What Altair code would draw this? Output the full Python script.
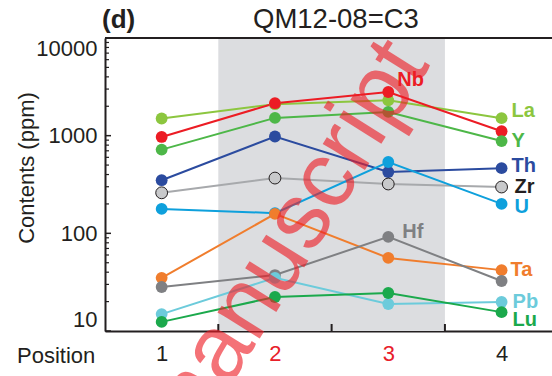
import altair as alt
import pandas as pd

# ---- data ----
positions = [1, 2, 3, 4]
series = ["La", "Nb", "Y", "Th", "Zr", "U", "Ta", "Hf", "Pb", "Lu"]
La = [1500, 2100, 2300, 1510]
Nb = [970, 2150, 2800, 1110]
Yv = [720, 1520, 1750, 880]
Th = [350, 980, 425, 465]
Zr = [260, 368, 320, 298]
U = [178, 161, 537, 200]
Ta = [35, 158, 56, 42]
Hf = [28.2, 37.4, 92, 32.5]
Pb = [14.9, 35, 18.9, 19.8]
Lu = [12.4, 22.3, 24.5, 15.6]
values = [La, Nb, Yv, Th, Zr, U, Ta, Hf, Pb, Lu]

line_colors = ["#8cc63f", "#ec1c24", "#4db748", "#2b4b9f", "#a7a9ac",
               "#0ea0dc", "#f07d2d", "#7f8083", "#6ccbdb", "#1ba94c"]
fill_colors = ["#8cc63f", "#ec1c24", "#4db748", "#2b4b9f", "#c8c9cb",
               "#0ea0dc", "#f07d2d", "#7f8083", "#6ccbdb", "#1ba94c"]
label_colors = ["#8cc63f", "#ec1c24", "#4db748", "#2b4b9f", "#231f20",
                "#0ea0dc", "#f07d2d", "#7f8083", "#6ccbdb", "#1ba94c"]
label_at = [4, 3, 4, 4, 4, 4, 4, 3, 4, 4]
label_dx = [10, 9, 10, 10, 13, 13, 9, 14, 11, 11]
label_dy = [-7, -12, 0, -2, 0, 3, 0, -5, 0, 8]

shade_range = [1.5, 3.5]
x_label_ticks = [1, 2, 3, 4]
x_inner_ticks = [1.5, 2.5, 3.5]
y_major = [10, 100, 1000, 10000]
y_minor = [m * k for k in [10, 100, 1000] for m in range(2, 10)]

wm_text = "manuscript"
wm_pos = [2.09, 76]

FONT = "Liberation Sans"
INK = "#231f20"
W, H = 447, 293

rows = []
for s, vals in zip(series, values):
    for p, v in zip(positions, vals):
        rows.append({"series": s, "pos": p, "value": v})
df = pd.DataFrame(rows)

xscale = alt.Scale(domain=[0.5, 4.445], nice=False, zero=False)
yscale = alt.Scale(type="log", domain=[10, 10000], nice=False)

xaxis = alt.Axis(values=x_label_ticks, ticks=False, tickSize=0, grid=False,
                 labelFontSize=22, labelFont=FONT, labelPadding=12,
                 labelColor=alt.condition("datum.value == 2 || datum.value == 3",
                                          alt.value("#e8202a"), alt.value(INK)),
                 labelFlush=False, domainWidth=2, domainColor=INK, title=None)
yaxis = alt.Axis(values=y_major, ticks=False, tickSize=0, grid=False, format="d",
                 labelFontSize=22, labelFont=FONT, labelColor=INK, labelPadding=8,
                 labelFlush=True, domainWidth=2, domainColor=INK,
                 title="Contents (ppm)", titleFont=FONT, titleFontSize=22,
                 titleFontWeight="normal", titleColor=INK, titleAngle=270,
                 titleX=-72, titleY=129.5, titleBaseline="alphabetic", titleAlign="center")

X = lambda f: alt.X(f, scale=xscale, axis=xaxis)
Y = lambda f: alt.Y(f, scale=yscale, axis=yaxis)

one = pd.DataFrame({"a": [0]})

shade = alt.Chart(pd.DataFrame({"x1": [shade_range[0]], "x2": [shade_range[1]]})).mark_rect(
    color="#dcdde0").encode(
    x=X("x1:Q"), x2="x2:Q", y=alt.value(0), y2=alt.value(H),
)

lines = alt.Chart(df).mark_line(strokeWidth=2).encode(
    x=X("pos:Q"),
    y=Y("value:Q"),
    color=alt.Color("series:N", scale=alt.Scale(domain=series, range=line_colors), legend=None),
    detail="series:N",
)

points = alt.Chart(df).mark_point(filled=True, size=140, opacity=1).encode(
    x=X("pos:Q"),
    y=Y("value:Q"),
    fill=alt.Fill("series:N", scale=alt.Scale(domain=series, range=fill_colors), legend=None),
    stroke=alt.condition("datum.series == 'Zr'", alt.value(INK), alt.value("transparent")),
    strokeWidth=alt.value(1),
)

ymaj = alt.Chart(pd.DataFrame({"v": y_major})).mark_rule(color=INK, strokeWidth=1.5).encode(
    y=Y("v:Q"), x=alt.value(0), x2=alt.value(6))
ymin = alt.Chart(pd.DataFrame({"v": y_minor})).mark_rule(color=INK, strokeWidth=1.2).encode(
    y=Y("v:Q"), x=alt.value(0), x2=alt.value(4))
xin = alt.Chart(pd.DataFrame({"v": x_inner_ticks})).mark_rule(color=INK, strokeWidth=2).encode(
    x=X("v:Q"), y=alt.value(H), y2=alt.value(H - 7))
topline = alt.Chart(one).mark_rule(color=INK, strokeWidth=2).encode(
    x=alt.value(0), x2=alt.value(W), y=alt.value(0))

layers = [shade, lines, points, ymaj, ymin, xin, topline]

for i, s in enumerate(series):
    p = label_at[i]
    v = values[i][positions.index(p)]
    ld = pd.DataFrame({"pos": [p], "value": [v], "t": [s]})
    layers.append(
        alt.Chart(ld).mark_text(align="left", baseline="middle", font=FONT,
                                fontSize=20, fontWeight="bold", color=label_colors[i],
                                dx=label_dx[i], dy=label_dy[i]).encode(
            x=X("pos:Q"), y=Y("value:Q"), text="t:N")
    )

title_d = alt.Chart(pd.DataFrame({"t": ["(d)"]})).mark_text(
    align="left", baseline="alphabetic", font=FONT, fontSize=26, fontWeight="bold", color=INK
).encode(x=alt.value(-3), y=alt.value(-10), text="t:N")
title_m = alt.Chart(pd.DataFrame({"t": ["QM12-08=C3"]})).mark_text(
    align="left", baseline="alphabetic", font=FONT, fontSize=27.5, color=INK
).encode(x=alt.value(148), y=alt.value(-10), text="t:N")
pos_lbl = alt.Chart(pd.DataFrame({"t": ["Position"]})).mark_text(
    align="left", baseline="alphabetic", font=FONT, fontSize=22, color=INK
).encode(x=alt.value(-88), y=alt.value(325), text="t:N")

wm = alt.Chart(pd.DataFrame({"x": [wm_pos[0]], "y": [wm_pos[1]], "t": [wm_text]})).mark_text(
    align="center", baseline="middle", font=FONT, fontSize=94, angle=302,
    color="#ee1c25", opacity=0.62
).encode(x=X("x:Q"), y=Y("y:Q"), text="t:N")

layers += [title_d, title_m, pos_lbl, wm]

chart = alt.layer(*layers).resolve_scale(color="independent").properties(
    width=W, height=H,
    autosize=alt.AutoSizeParams(type="none"),
    padding={"left": 105, "top": 38, "right": 0, "bottom": 45},
).configure_view(stroke=None)

chart.save("out.html", embed_options={"renderer": "svg", "actions": False})
